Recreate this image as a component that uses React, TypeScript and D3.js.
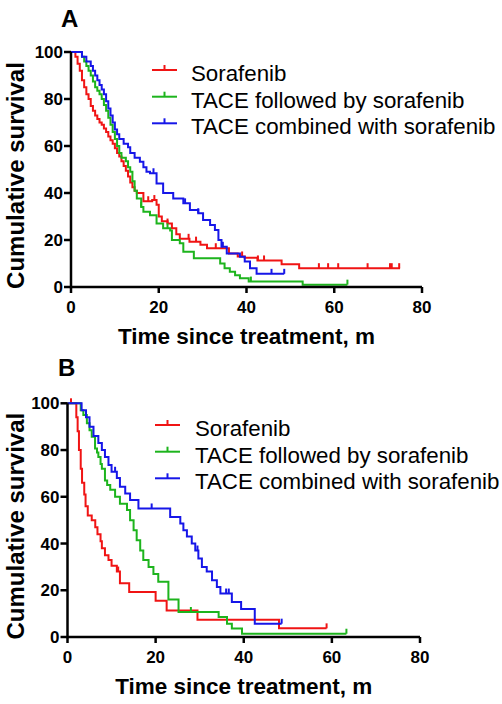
import React from "react";
import * as d3 from "d3";

// ---------- data ----------
const TIME_TICKS = [0, 20, 40, 60, 80];
const SURV_TICKS = [0, 20, 40, 60, 80, 100];
const SERIES_NAMES = ["Sorafenib", "TACE followed by sorafenib", "TACE combined with sorafenib"];
const SERIES_COLORS = ["#f01414", "#1db41d", "#1616e8"];

// Panel A: [time (months), survival %] step points; last point is end of follow-up
const A_SORAFENIB: [number, number][] = [
  [0, 100], [1, 98], [1.5, 95], [2, 92], [2.5, 88], [3, 85], [3.5, 82], [4, 80], [4.5, 77], [5, 75],
  [5.5, 73], [6, 71.5], [6.5, 70], [7, 69], [7.5, 67.5], [8, 66], [8.5, 64], [9, 62.5], [9.5, 61],
  [10, 59], [10.5, 57], [11, 55.5], [11.5, 53.5], [12, 51.5], [12.5, 49.5], [13, 47], [13.5, 44.5],
  [14, 42.5], [14.5, 41], [15, 40], [16.5, 36.5], [18.5, 37], [19.5, 35], [20, 30], [20.7, 28],
  [22, 27], [23, 25], [24, 22.5], [24.8, 20.5], [27, 19.3], [29.5, 18], [31, 16.5], [36, 14.3],
  [38, 13], [39.6, 12.5], [42.5, 11.3], [48, 9.7], [52, 8], [75, 8],
];
const A_TACE_FOLLOWED: [number, number][] = [
  [0, 100], [2.5, 98], [3, 96], [3.5, 94], [4, 92], [4.5, 90], [5, 87.5], [5.5, 85], [6, 83.5],
  [6.5, 82], [7, 80], [7.5, 77.5], [8, 75], [8.5, 72], [9, 69], [9.5, 66], [10, 63], [10.5, 60],
  [11, 57], [11.5, 55], [12.5, 53.5], [13, 51], [13.5, 49], [14, 45], [14.5, 41], [15, 37.7],
  [16, 34], [16.5, 32], [18, 30.5], [19.5, 27], [21, 25], [22.6, 24], [23, 20], [24.8, 18.6],
  [25.6, 15], [28, 12.2], [34, 10], [35, 8], [36.2, 6.5], [37.4, 5], [38.5, 3.7], [40.5, 2.3],
  [52.8, 1], [63, 1],
];
const A_TACE_COMBINED: [number, number][] = [
  [0, 100], [2.5, 98], [3.5, 96], [4.5, 94], [5, 92], [5.5, 90], [6, 88], [6.5, 86], [7, 84],
  [7.5, 82], [8, 79], [8.5, 76], [9, 73], [9.5, 70], [10, 67], [10.5, 65], [11, 63], [12, 61],
  [13, 59.5], [13.5, 57], [14.5, 55], [15.7, 53.3], [16.5, 51], [17.2, 49], [18, 48.4],
  [19.5, 44], [21, 40], [23.3, 37.7], [25.6, 35.6], [27.1, 32.8], [29, 31.4], [30.1, 28.5],
  [31.7, 26.4], [32.8, 24.3], [33.6, 20], [34.3, 17.1], [35.5, 14.3], [38.5, 12.9], [39.6, 10.8],
  [40.8, 8], [42.3, 5.6], [48.6, 5.6],
];
const A_CENSOR_SORAFENIB = [17.6, 19, 22, 26.8, 28.5, 33, 34.5, 39, 42.6, 44, 56.5, 58.6, 60.9, 67.6, 72.7, 73.1, 74.8];
const A_CENSOR_FOLLOWED = [16, 22, 41, 63];
const A_CENSOR_COMBINED = [18.8, 26, 29, 34.6, 45.7, 48.6];

// Panel B
const B_SORAFENIB: [number, number][] = [
  [0, 100], [2, 94], [2.3, 88], [2.6, 80], [3, 72], [3.3, 66], [3.8, 61], [4.1, 56], [4.6, 52],
  [5.5, 50], [6.3, 47], [6.8, 44], [7.5, 41], [7.8, 38], [8.5, 35], [9.3, 33], [10, 30.5],
  [11.2, 28], [11.9, 23], [14, 19.3], [20, 15.5], [22.5, 11.3], [29.5, 7.4], [48, 3.7], [58.8, 3.7],
];
const B_TACE_FOLLOWED: [number, number][] = [
  [0, 100], [3, 97], [3.6, 95], [4.4, 91.5], [5, 88.5], [5.5, 85.7], [6.25, 80.7], [6.7, 79],
  [7, 77], [7.5, 74], [7.8, 72], [8.5, 67], [9, 65], [9.7, 63], [10.8, 60], [11.9, 57],
  [13.5, 54.3], [14.2, 50], [15, 45.7], [15.7, 41.4], [16.5, 37], [17.2, 33], [18.4, 30],
  [19.5, 27], [20.6, 23.6], [22.9, 16], [25.2, 10.7], [34.3, 8.6], [36.2, 5.7], [37.3, 3.6],
  [39.6, 1.4], [63.3, 1.4],
];
const B_TACE_COMBINED: [number, number][] = [
  [0, 100], [3.2, 97], [4.2, 94], [5, 90], [5.9, 86], [7, 83], [7.8, 80], [8.5, 77], [9.3, 73.6],
  [10, 70.7], [11.2, 68], [11.9, 64.3], [13.1, 61.4], [14.2, 58.6], [16.1, 55], [23.3, 51.4],
  [25.6, 48.6], [26.3, 45.7], [27.1, 43], [28.2, 40], [29, 37], [29.7, 33.6], [30.5, 30],
  [31.6, 28], [32.8, 24.3], [33.9, 21.4], [34.7, 18.6], [37.3, 15], [39.4, 12], [42.5, 5.7],
  [48.6, 5.7],
];
const B_CENSOR_SORAFENIB = [0.8, 11.5, 58.8];
const B_CENSOR_FOLLOWED = [28, 63.3];
const B_CENSOR_COMBINED = [10.8, 19.1, 29.5, 36, 36.6, 48.6];

// ---------- drawing ----------
const FONT = "'Liberation Sans', Arial, Helvetica, sans-serif";

type Series = { pts: [number, number][]; censor: number[] };

function survAt(pts: [number, number][], t: number) {
  let s = pts[0][1];
  for (const p of pts) if (p[0] <= t) s = p[1];
  return s;
}

function Panel(props: {
  letter: string;
  letterPos: [number, number];
  xRange: [number, number];
  yRange: [number, number];
  series: Series[];
  legendY: number[];
  legendX: [number, number, number];
}) {
  const { letter, letterPos, xRange, yRange, series, legendY, legendX } = props;
  const x = d3.scaleLinear().domain([0, 80]).range(xRange);
  const y = d3.scaleLinear().domain([0, 100]).range(yRange);
  const line = d3
    .line<[number, number]>()
    .x((d) => x(d[0]))
    .y((d) => y(d[1]))
    .curve(d3.curveStepAfter);
  const y0 = yRange[0];
  const x0 = xRange[0];
  return (
    <g>
      <text x={letterPos[0]} y={letterPos[1]} fontFamily={FONT} fontWeight="bold" fontSize={24}>
        {letter}
      </text>
      {series.map((s, i) => (
        <g key={i} stroke={SERIES_COLORS[i]} strokeWidth={2} fill="none">
          <path d={line(s.pts) || ""} strokeLinejoin="miter" />
          {s.censor.map((t, j) => (
            <line key={j} x1={x(t)} x2={x(t)} y1={y(survAt(s.pts, t))} y2={y(survAt(s.pts, t)) - 5} />
          ))}
        </g>
      ))}
      {/* axes */}
      <g stroke="#000" strokeWidth={2.5}>
        <line x1={x0} x2={x0} y1={y0 + 1.25} y2={yRange[1]} />
        <line x1={x0} x2={xRange[1]} y1={y0} y2={y0} />
        {SURV_TICKS.map((v) => (
          <line key={"yt" + v} x1={x0 - 7} x2={x0} y1={y(v)} y2={y(v)} />
        ))}
        {TIME_TICKS.map((v) => (
          <line key={"xt" + v} x1={x(v)} x2={x(v)} y1={y0} y2={y0 + 6} />
        ))}
      </g>
      {SURV_TICKS.map((v) => (
        <text
          key={"yl" + v}
          x={x0 - 8}
          y={y(v)}
          dy="0.36em"
          textAnchor="end"
          fontFamily={FONT}
          fontWeight="bold"
          fontSize={17}
        >
          {v}
        </text>
      ))}
      {TIME_TICKS.map((v) => (
        <text
          key={"xl" + v}
          x={x(v)}
          y={y0 + 26}
          textAnchor="middle"
          fontFamily={FONT}
          fontWeight="bold"
          fontSize={17}
        >
          {v}
        </text>
      ))}
      <text
        x={(xRange[0] + xRange[1]) / 2}
        y={y0 + 57}
        textAnchor="middle"
        fontFamily={FONT}
        fontWeight="bold"
        fontSize={22.5}
      >
        Time since treatment, m
      </text>
      <text
        transform={`translate(24,${(yRange[0] + yRange[1]) / 2 + 6}) rotate(-90)`}
        textAnchor="middle"
        fontFamily={FONT}
        fontWeight="bold"
        fontSize={24}
      >
        Cumulative survival
      </text>
      {/* legend */}
      {SERIES_NAMES.map((name, i) => (
        <g key={"lg" + i}>
          <line
            x1={legendX[0]}
            x2={legendX[1]}
            y1={legendY[i]}
            y2={legendY[i]}
            stroke={SERIES_COLORS[i]}
            strokeWidth={2}
          />
          <line
            x1={(legendX[0] + legendX[1]) / 2}
            x2={(legendX[0] + legendX[1]) / 2}
            y1={legendY[i]}
            y2={legendY[i] - 5}
            stroke={SERIES_COLORS[i]}
            strokeWidth={2}
          />
          <text x={legendX[2]} y={legendY[i] + 11} fontFamily={FONT} fontSize={22.3}>
            {name}
          </text>
        </g>
      ))}
    </g>
  );
}

export default function App() {
  const seriesA: Series[] = [
    { pts: A_SORAFENIB, censor: A_CENSOR_SORAFENIB },
    { pts: A_TACE_FOLLOWED, censor: A_CENSOR_FOLLOWED },
    { pts: A_TACE_COMBINED, censor: A_CENSOR_COMBINED },
  ];
  const seriesB: Series[] = [
    { pts: B_SORAFENIB, censor: B_CENSOR_SORAFENIB },
    { pts: B_TACE_FOLLOWED, censor: B_CENSOR_FOLLOWED },
    { pts: B_TACE_COMBINED, censor: B_CENSOR_COMBINED },
  ];
  return (
    <svg
      width={502}
      height={704}
      style={{ position: "absolute", left: 0, top: 0, background: "#fff" }}
    >
      <Panel
        letter="A"
        letterPos={[61, 27]}
        xRange={[71, 422]}
        yRange={[287, 52]}
        series={seriesA}
        legendY={[70, 96.7, 123.3]}
        legendX={[152, 177, 191]}
      />
      <Panel
        letter="B"
        letterPos={[58, 376]}
        xRange={[67.5, 420]}
        yRange={[637, 403.3]}
        series={seriesB}
        legendY={[425, 451.7, 478.3]}
        legendX={[155, 180, 195]}
      />
    </svg>
  );
}
